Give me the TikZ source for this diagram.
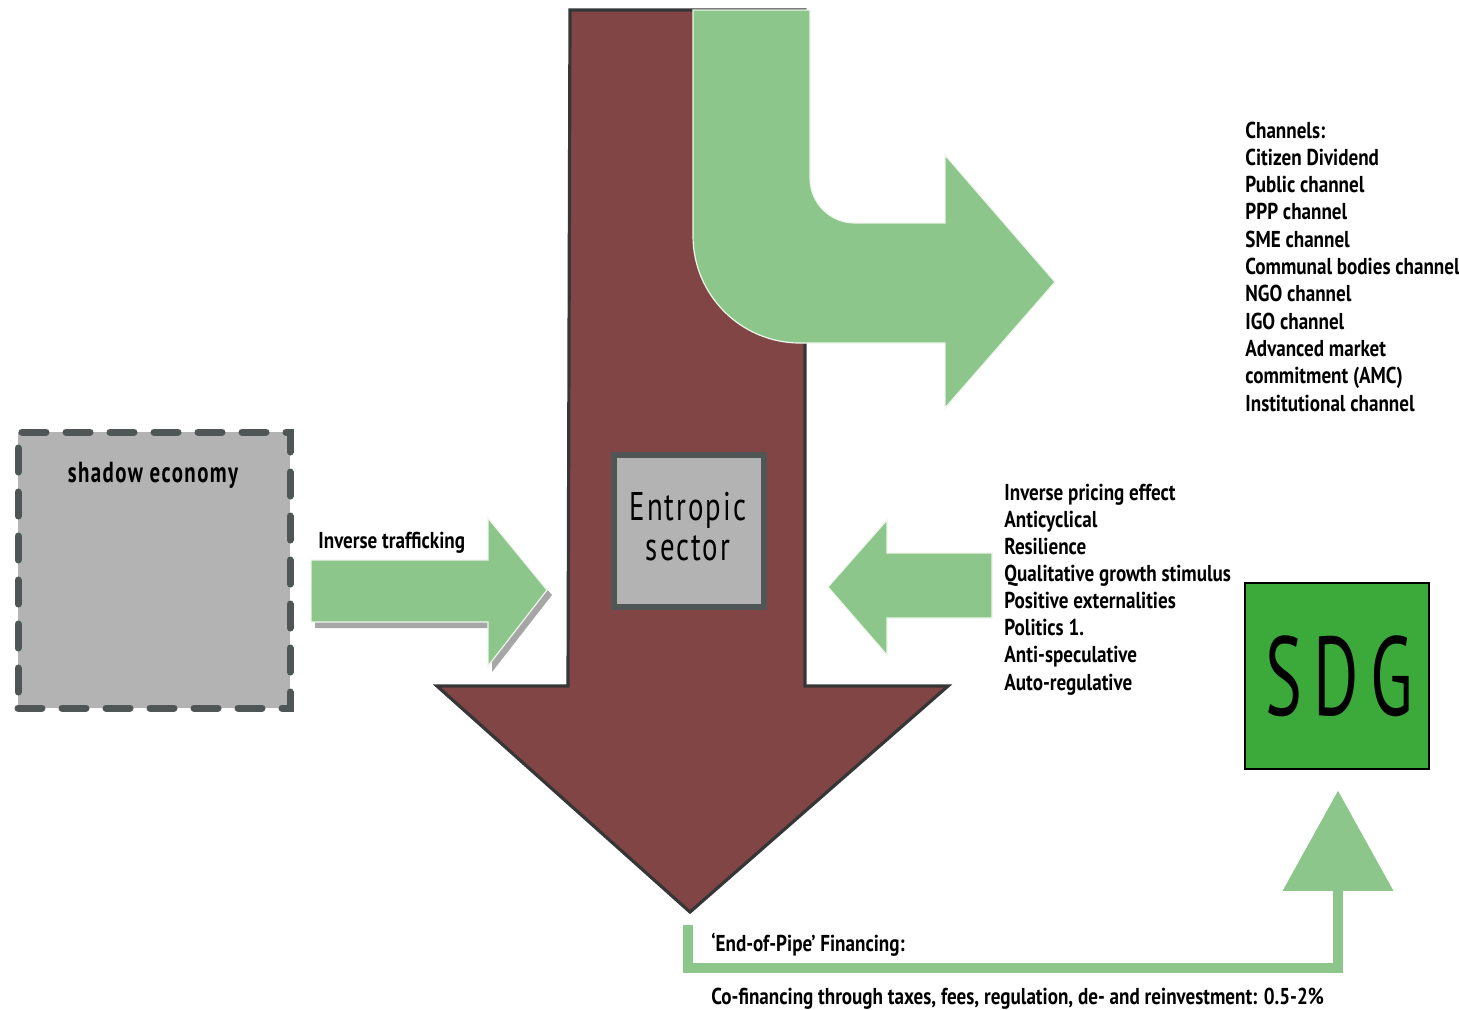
\documentclass[tikz,border=0pt]{standalone}
\usepackage{fontspec}
\usetikzlibrary{shapes.geometric}
\setmainfont{PT Sans}[FakeStretch=0.83]
\newfontfamily\titlefont{PT Sans}[FakeStretch=0.72, LetterSpace=5]
\newfontfamily\sdgfont{PT Sans}[FakeStretch=0.62, LetterSpace=10]
\definecolor{brownarrow}{HTML}{814545}
\definecolor{sketch}{HTML}{363636}
\definecolor{lgreen}{HTML}{8DC68A}
\definecolor{sdggreen}{HTML}{3BAA3B}
\definecolor{boxgray}{HTML}{B3B3B3}
\definecolor{boxedge}{HTML}{505555}
\begin{document}
\begin{tikzpicture}[x=0.5pt,y=-0.5pt,
  lbl/.style={font=\fontsize{11.5}{13}\selectfont\bfseries, anchor=base west, inner sep=0pt},
  greenarrow/.style={fill=lgreen, draw=white!85!lgreen, line width=0.6pt},
  shadowbox/.style={fill=boxgray, draw=boxedge, line width=3.5pt, dash pattern=on 12pt off 10pt, line cap=round},
  entbox/.style={fill=boxgray, draw=boxedge, line width=2.8pt, minimum width=75pt, minimum height=76pt, inner sep=0pt},
  sdgbox/.style={fill=sdggreen, draw=black, line width=1pt, minimum width=92pt, minimum height=93pt, inner sep=0pt},
  flow/.style={draw=lgreen, line width=5pt}
]
\useasboundingbox (0,0) rectangle (1459,1009);

% main brown arrow
\fill[brownarrow, draw=sketch, line width=1.6pt, line join=miter]
  (570,10) -- (805,10) -- (805,686) -- (948,686) -- (690,912) -- (437,686) -- (568,686) -- cycle;

% green L arrow (channels)
\path[greenarrow]
  (693,10) -- (810,10) -- (810,178) .. controls (810,203) and (830,223) .. (855,223)
  -- (945,223) -- (945,155) -- (1055,282) -- (945,408) -- (945,343) -- (800,343)
  .. controls (741,343) and (693,295) .. (693,236) -- cycle;

% shadow economy box
\node[shadowbox, minimum width=136pt, minimum height=138pt, inner sep=0pt] (shadow) at (154,570) {};
\node[font=\fontsize{14.5}{17}\selectfont\titlefont\bfseries, anchor=base, inner sep=0pt] (shadowlbl) at (153,482) {shadow economy};

% inverse trafficking arrow with shadow
\fill[gray!70] (315,568) -- (492,568) -- (492,528) -- (552,595) -- (492,672) -- (492,628) -- (315,628) -- cycle;
\path[greenarrow] (311,560) -- (488,560) -- (488,518) -- (547,590) -- (488,666) -- (488,622) -- (311,622) -- cycle;
\node[lbl] (traff) at (318,548) {Inverse trafficking};

% entropic sector
\node[entbox] (ent) at (689,531) {};
\node[font=\fontsize{20}{20}\selectfont\titlefont, anchor=base, inner sep=0pt] (ent1) at (688,520) {Entropic};
\node[font=\fontsize{20}{20}\selectfont\titlefont, anchor=base, inner sep=0pt] (ent2) at (688,560) {sector};

% left pointing green arrow
\path[greenarrow] (992,553) -- (887,553) -- (887,520) -- (828,587) -- (887,655) -- (887,618) -- (992,618) -- cycle;

% channel list
\foreach \t [count=\i] in {Channels:, Citizen Dividend, Public channel, PPP channel, SME channel, Communal bodies channel, NGO channel, IGO channel, Advanced market, commitment (AMC), Institutional channel}
  \node[lbl] (ch\i) at (1245,{138+27.3*(\i-1)}) {\t};

% effects list
\foreach \t [count=\i] in {Inverse pricing effect, Anticyclical, Resilience, Qualitative growth stimulus, Positive externalities, Politics 1., Anti-speculative, Auto-regulative}
  \node[lbl] (ef\i) at (1004,{500+27.15*(\i-1)}) {\t};

% SDG box
\node[sdgbox] (sdg) at (1337,676) {};
\node[font=\fontsize{56}{56}\selectfont\sdgfont, inner sep=0pt] (sdglbl) at (1339,676) {SDG};

% end-of-pipe flow
\coordinate (tip) at (690,912);
\coordinate (fstart) at (688,925);
\coordinate (fcorner1) at (688,968);
\coordinate (fcorner2) at (1338,968);
\node[fill=lgreen, isosceles triangle, isosceles triangle apex angle=58, shape border rotate=90, minimum height=50pt, inner sep=0pt, anchor=apex] (head) at (1338,790) {};
\draw[flow] (fstart) -- (fcorner1) -- (fcorner2) -- (head.south);
\node[lbl] (eop) at (711,951) {‘End-of-Pipe’ Financing:};
\node[lbl] (cofin) at (711,1004) {Co-financing through taxes, fees, regulation, de- and reinvestment: 0.5-2\%};
\end{tikzpicture}
\end{document}
